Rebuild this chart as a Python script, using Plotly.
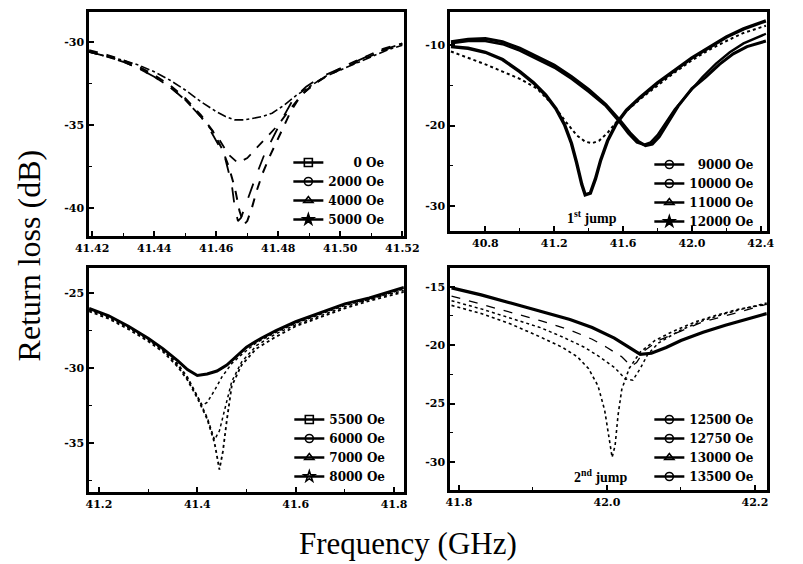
import plotly.graph_objects as go

# ---------------- data ----------------
# Panel A (top-left): 0 - 5000 Oe
a_labels = ["\u2007\u2007\u20070 Oe", "2000 Oe", "4000 Oe", "5000 Oe"]
a_f0 = [41.419, 41.425, 41.430, 41.435, 41.440, 41.445, 41.450, 41.455, 41.460, 41.463, 41.466, 41.469,
        41.472, 41.475, 41.478, 41.482, 41.486, 41.490, 41.495, 41.500, 41.505, 41.510, 41.515, 41.520]
a_db0 = [-30.6, -30.9, -31.1, -31.4, -31.8, -32.3, -32.9, -33.6, -34.2, -34.5, -34.7, -34.7,
         -34.6, -34.5, -34.3, -33.8, -33.2, -32.7, -32.1, -31.7, -31.3, -30.9, -30.5, -30.2]
a_f1 = [41.419, 41.425, 41.430, 41.435, 41.440, 41.445, 41.450, 41.455, 41.458, 41.461, 41.464, 41.467,
        41.470, 41.473, 41.476, 41.480, 41.484, 41.488, 41.492, 41.497, 41.502, 41.508, 41.514, 41.520]
a_db1 = [-30.6, -30.9, -31.2, -31.6, -32.1, -32.7, -33.5, -34.5, -35.2, -35.9, -36.8, -37.3,
         -37.0, -36.4, -35.8, -35.0, -34.0, -33.1, -32.5, -31.9, -31.4, -30.9, -30.4, -30.1]
a_f2 = [41.419, 41.425, 41.430, 41.435, 41.440, 41.445, 41.450, 41.455, 41.458, 41.461, 41.463, 41.465,
        41.466, 41.467, 41.468, 41.4695, 41.471, 41.473, 41.4755, 41.479, 41.482, 41.485, 41.489, 41.494,
        41.500, 41.506, 41.512, 41.520]
a_db2 = [-30.6, -30.9, -31.2, -31.6, -32.1, -32.7, -33.5, -34.5, -35.3, -36.3, -37.1, -38.6,
         -40.0, -40.8, -40.6, -39.8, -39.0, -38.0, -36.8, -35.5, -34.4, -33.4, -32.7, -32.1,
         -31.6, -31.1, -30.6, -30.1]
a_f3 = [41.419, 41.425, 41.430, 41.435, 41.440, 41.445, 41.450, 41.455, 41.459, 41.462, 41.464, 41.466,
        41.4675, 41.469, 41.470, 41.4715, 41.473, 41.475, 41.4775, 41.481, 41.484, 41.487, 41.491, 41.496,
        41.502, 41.508, 41.514, 41.520]
a_db3 = [-30.5, -30.8, -31.1, -31.5, -32.0, -32.6, -33.4, -34.4, -35.4, -36.5, -37.5, -38.8,
         -40.2, -41.0, -40.8, -40.0, -39.0, -37.9, -36.8, -35.4, -34.2, -33.3, -32.6, -32.0,
         -31.5, -31.0, -30.5, -30.1]
a_xticks = [41.42, 41.44, 41.46, 41.48, 41.50, 41.52]
a_xtext = ["41.42", "41.44", "41.46", "41.48", "41.50", "41.52"]
a_yticks = [-30, -35, -40]
a_ytext = ["-30", "-35", "-40"]

# Panel B (top-right): 9000 - 12000 Oe
b_labels = ["\u20079000 Oe", "10000 Oe", "11000 Oe", "12000 Oe"]
b_f0 = [40.60, 40.70, 40.80, 40.90, 41.00, 41.10, 41.20, 41.30, 41.40, 41.50, 41.58, 41.64, 41.69, 41.73,
        41.77, 41.81, 41.86, 41.92, 42.00, 42.08, 42.16, 42.24, 42.32, 42.43]
b_db0 = [-9.6, -9.3, -9.2, -9.6, -10.4, -11.4, -12.5, -13.9, -15.5, -17.4, -19.3, -20.9, -22.0, -22.5,
         -22.3, -21.4, -19.6, -17.6, -15.4, -14.0, -12.4, -11.1, -10.2, -9.5]
b_f1 = [40.60, 40.70, 40.80, 40.90, 41.00, 41.10, 41.20, 41.30, 41.40, 41.50, 41.58, 41.63, 41.68, 41.72,
        41.76, 41.80, 41.85, 41.90, 41.98, 42.06, 42.14, 42.22, 42.30, 42.43]
b_db1 = [-9.8, -9.5, -9.5, -9.9, -10.7, -11.7, -12.8, -14.2, -15.8, -17.6, -19.6, -21.0, -22.1, -22.4,
         -22.1, -21.2, -19.6, -18.0, -16.0, -14.0, -12.3, -10.9, -9.8, -8.6]
b_f2 = [40.60, 40.70, 40.80, 40.90, 41.00, 41.10, 41.20, 41.27, 41.33, 41.38, 41.42, 41.46, 41.51, 41.56,
        41.62, 41.70, 41.80, 41.90, 42.00, 42.10, 42.20, 42.30, 42.43]
b_db2 = [-10.8, -11.6, -12.4, -13.3, -14.2, -15.4, -17.6, -19.6, -21.2, -22.0, -22.2, -21.9, -20.9, -19.6,
         -18.2, -16.7, -15.0, -13.4, -11.9, -10.6, -9.5, -8.5, -7.6]
b_f3 = [40.60, 40.70, 40.80, 40.90, 41.00, 41.08, 41.15, 41.21, 41.26, 41.30, 41.33, 41.36, 41.38, 41.41,
        41.44, 41.47, 41.51, 41.56, 41.62, 41.70, 41.80, 41.90, 42.00, 42.10, 42.20, 42.30, 42.43]
b_db3 = [-10.2, -10.4, -10.9, -11.8, -13.3, -14.7, -16.2, -17.9, -19.9, -22.2, -24.6, -27.3, -28.6, -28.4,
         -26.6, -24.3, -21.9, -19.8, -18.1, -16.5, -14.7, -13.1, -11.6, -10.3, -9.0, -8.0, -7.0]
b_xticks = [40.8, 41.2, 41.6, 42.0, 42.4]
b_xtext = ["40.8", "41.2", "41.6", "42.0", "42.4"]
b_yticks = [-10, -20, -30]
b_ytext = ["-10", "-20", "-30"]

# Panel C (bottom-left): 5500 - 8000 Oe
c_labels = ["5500 Oe", "6000 Oe", "7000 Oe", "8000 Oe"]
c_f0 = [41.18, 41.22, 41.26, 41.30, 41.33, 41.36, 41.38, 41.40, 41.42, 41.44, 41.46, 41.48, 41.50, 41.53,
        41.56, 41.60, 41.65, 41.70, 41.75, 41.82]
c_db0 = [-26.0, -26.5, -27.2, -28.0, -28.7, -29.5, -30.1, -30.5, -30.4, -30.2, -29.8, -29.2, -28.6, -28.0,
         -27.5, -26.9, -26.3, -25.7, -25.3, -24.6]
c_f1 = [41.18, 41.22, 41.26, 41.30, 41.33, 41.36, 41.38, 41.40, 41.41, 41.42, 41.435, 41.45, 41.47, 41.49,
        41.52, 41.56, 41.60, 41.65, 41.70, 41.75, 41.82]
c_db1 = [-26.1, -26.6, -27.3, -28.1, -28.8, -29.7, -30.6, -31.8, -32.5, -32.3, -31.5, -30.6, -29.7, -29.1,
         -28.3, -27.6, -27.0, -26.4, -25.8, -25.4, -24.7]
c_f2 = [41.18, 41.22, 41.26, 41.30, 41.33, 41.36, 41.38, 41.40, 41.42, 41.435, 41.445, 41.455, 41.47, 41.49,
        41.52, 41.56, 41.60, 41.65, 41.70, 41.75, 41.82]
c_db2 = [-26.1, -26.6, -27.3, -28.1, -28.8, -29.8, -30.7, -31.9, -33.3, -34.8, -34.2, -32.8, -30.9, -29.6,
         -28.5, -27.7, -27.1, -26.5, -25.9, -25.4, -24.8]
c_f3 = [41.18, 41.22, 41.26, 41.30, 41.33, 41.36, 41.38, 41.40, 41.42, 41.435, 41.445, 41.452, 41.46, 41.47,
        41.49, 41.52, 41.56, 41.60, 41.65, 41.70, 41.75, 41.82]
c_db3 = [-26.2, -26.7, -27.4, -28.2, -28.9, -29.9, -30.8, -32.0, -33.4, -35.0, -36.8, -35.6, -33.5, -31.2,
         -29.8, -28.7, -27.9, -27.2, -26.6, -26.0, -25.5, -24.9]
c_xticks = [41.2, 41.4, 41.6, 41.8]
c_xtext = ["41.2", "41.4", "41.6", "41.8"]
c_yticks = [-25, -30, -35]
c_ytext = ["-25", "-30", "-35"]

# Panel D (bottom-right): 12500 - 13500 Oe
d_labels = ["12500 Oe", "12750 Oe", "13000 Oe", "13500 Oe"]
d_f0 = [41.79, 41.83, 41.87, 41.91, 41.95, 41.98, 42.01, 42.03, 42.045, 42.06, 42.08, 42.10, 42.13, 42.16,
        42.19, 42.216]
d_db0 = [-15.1, -15.7, -16.4, -17.1, -17.8, -18.5, -19.4, -20.2, -20.8, -20.7, -20.2, -19.6, -18.9, -18.3,
         -17.8, -17.3]
d_f1 = [41.79, 41.83, 41.87, 41.91, 41.95, 41.98, 42.00, 42.02, 42.033, 42.04, 42.05, 42.07, 42.10, 42.13,
        42.16, 42.19, 42.216]
d_db1 = [-15.8, -16.5, -17.2, -17.9, -18.7, -19.5, -20.2, -21.0, -21.8, -21.5, -20.5, -19.6, -18.8, -18.0,
         -17.5, -17.0, -16.5]
d_f2 = [41.79, 41.83, 41.87, 41.91, 41.94, 41.97, 41.99, 42.01, 42.025, 42.035, 42.045, 42.055, 42.07,
        42.10, 42.13, 42.16, 42.19, 42.216]
d_db2 = [-16.2, -16.9, -17.7, -18.5, -19.3, -20.2, -21.0, -21.9, -22.9, -23.0, -22.0, -20.8, -19.8,
         -18.7, -17.9, -17.3, -16.8, -16.4]
d_f3 = [41.79, 41.83, 41.87, 41.91, 41.94, 41.96, 41.975, 41.988, 41.997, 42.003, 42.007, 42.011, 42.015,
        42.02, 42.03, 42.045, 42.065, 42.09, 42.12, 42.15, 42.18, 42.216]
d_db3 = [-16.6, -17.3, -18.2, -19.3, -20.2, -21.0, -22.0, -23.5, -25.6, -27.8, -29.6, -28.6, -26.0,
         -23.8, -22.0, -20.6, -19.6, -18.8, -18.0, -17.4, -16.9, -16.5]
d_xticks = [41.8, 42.0, 42.2]
d_xtext = ["41.8", "42.0", "42.2"]
d_yticks = [-15, -20, -25, -30]
d_ytext = ["-15", "-20", "-25", "-30"]

# ---------------- figure ----------------
W, H = 803, 564
SERIF = "Liberation Serif"
BOLDSERIF = "DejaVu Serif"
fig = go.Figure()

def px_x(a, b):
    return [a / W, b / W]

def px_y(top, bottom):
    return [1 - bottom / H, 1 - top / H]

panels = [
    dict(s="", xd=px_x(78, 405), yd=px_y(12, 236), xr=[41.419, 41.5205], yr=[-41.7, -28.2],
         xt=a_xticks, xtt=a_xtext, xm=0.01, yt=a_yticks, ytt=a_ytext, ym=2.5, leg=(285, 148)),
    dict(s="2", xd=px_x(453, 782), yd=px_y(12, 231), xr=[40.595, 42.435], yr=[-33.1, -5.9],
         xt=b_xticks, xtt=b_xtext, xm=0.2, yt=b_yticks, ytt=b_ytext, ym=5, leg=(660, 150)),
    dict(s="3", xd=px_x(78, 405), yd=px_y(268, 492), xr=[41.180, 41.820], yr=[-38.3, -23.3],
         xt=c_xticks, xtt=c_xtext, xm=0.1, yt=c_yticks, ytt=c_ytext, ym=2.5, leg=(286, 405)),
    dict(s="4", xd=px_x(453, 782), yd=px_y(268, 490), xr=[41.788, 42.216], yr=[-32.4, -13.4],
         xt=d_xticks, xtt=d_xtext, xm=0.1, yt=d_yticks, ytt=d_ytext, ym=2.5, leg=(660, 405)),
]

series = [
    (a_labels, [(a_f0, a_db0), (a_f1, a_db1), (a_f2, a_db2), (a_f3, a_db3)],
     [("dashdot", 1.6), ("dash", 1.8), ("longdash", 1.8), ("dash", 2.0)]),
    (b_labels, [(b_f0, b_db0), (b_f1, b_db1), (b_f2, b_db2), (b_f3, b_db3)],
     [("solid", 3.0), ("solid", 2.4), ("dot", 2.0), ("solid", 3.4)]),
    (c_labels, [(c_f0, c_db0), (c_f1, c_db1), (c_f2, c_db2), (c_f3, c_db3)],
     [("solid", 3.0), ("dot", 1.5), ("dot", 1.5), ("dot", 1.8)]),
    (d_labels, [(d_f0, d_db0), (d_f1, d_db1), (d_f2, d_db2), (d_f3, d_db3)],
     [("solid", 3.2), ("dash", 1.3), ("dot", 1.5), ("dot", 1.6)]),
]
markers = [
    ["square-open", "circle-open", "triangle-up-open", "star"],
    ["circle-open", "circle-open", "triangle-up-open", "star"],
    ["square-open", "circle-open", "triangle-up-open", "star-open"],
    ["circle-open", "circle-open", "triangle-up-open", "circle-open"],
]

layout_upd = {}
for i in range(4):
    p = panels[i]
    labels, data, styles = series[i]
    s = p["s"]
    xa, ya = "x" + s, "y" + s
    leg = "legend" + s
    for (f, db), (dash, w) in zip(data, styles):
        fig.add_trace(go.Scatter(x=f, y=db, mode="lines", xaxis=xa, yaxis=ya,
                                 line=dict(color="black", width=w, dash=dash),
                                 showlegend=False, hoverinfo="skip"))
    for lab, sym in zip(labels, markers[i]):
        fig.add_trace(go.Scatter(x=[None], y=[None], mode="lines+markers", xaxis=xa, yaxis=ya,
                                 name=lab, legend=leg,
                                 line=dict(color="black", width=2.6),
                                 marker=dict(symbol=sym, size=8, color="black",
                                             line=dict(color="black", width=1.6)),
                                 showlegend=True))
    axis_common = dict(showline=True, linecolor="black", linewidth=2.5, mirror=True,
                       ticks="inside", ticklen=5, tickwidth=1.5, tickcolor="black",
                       showgrid=False, zeroline=False,
                       tickfont=dict(family=BOLDSERIF, size=11, color="black", weight="bold"))
    layout_upd["xaxis" + s] = dict(axis_common, domain=p["xd"], range=p["xr"], anchor=ya,
                                   tickvals=p["xt"], ticktext=p["xtt"],
                                   minor=dict(dtick=p["xm"], ticks="inside", ticklen=3,
                                              tickcolor="black", tickwidth=1.2))
    layout_upd["yaxis" + s] = dict(axis_common, domain=p["yd"], range=p["yr"], anchor=xa,
                                   tickvals=p["yt"], ticktext=p["ytt"],
                                   minor=dict(dtick=p["ym"], ticks="inside", ticklen=3,
                                              tickcolor="black", tickwidth=1.2))
    lx, ly = p["leg"]
    layout_upd[leg] = dict(x=lx / W, y=1 - ly / H, xanchor="left", yanchor="top",
                           xref="paper", yref="paper",
                           bgcolor="rgba(0,0,0,0)", borderwidth=0,
                           font=dict(family=BOLDSERIF, size=12, color="black", weight="bold"),
                           tracegroupgap=0, itemwidth=30)

fig.update_layout(**layout_upd)
fig.update_layout(
    width=W, height=H,
    margin=dict(l=0, r=0, t=0, b=0),
    paper_bgcolor="white", plot_bgcolor="white",
    annotations=[
        dict(text="Return loss (dB)", x=16 / W, y=1 - 255 / H, xref="paper", yref="paper",
             xanchor="center", yanchor="middle",
             textangle=-90, showarrow=False, font=dict(family=SERIF, size=32, color="black")),
        dict(text="Frequency (GHz)", x=409 / W, y=1 - 543 / H, xref="paper", yref="paper",
             xanchor="center", yanchor="middle",
             showarrow=False, font=dict(family=SERIF, size=31, color="black")),
        dict(text="1<sup>st</sup> jump", x=600 / W, y=1 - 217 / H, xref="paper", yref="paper",
             xanchor="center", yanchor="middle",
             showarrow=False, font=dict(family=SERIF, size=14, color="black", weight="bold")),
        dict(text="2<sup>nd</sup> jump", x=610 / W, y=1 - 476 / H, xref="paper", yref="paper",
             xanchor="center", yanchor="middle",
             showarrow=False, font=dict(family=SERIF, size=14, color="black", weight="bold")),
    ],
)

fig.write_html("out.html")
